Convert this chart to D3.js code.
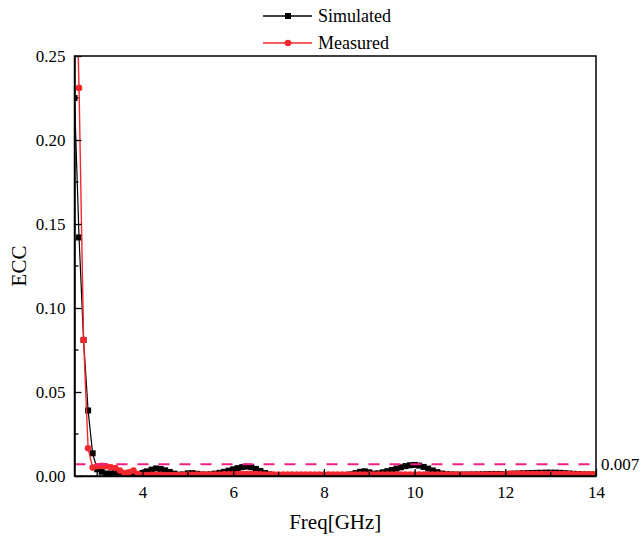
<!DOCTYPE html>
<html>
<head>
<meta charset="utf-8">
<script src="https://cdn.jsdelivr.net/npm/d3@7"></script>
<style>
  body { margin: 0; background: #fff; }
  text { font-family: "Liberation Serif", "Times New Roman", serif; fill: #000; }
</style>
</head>
<body>
<div id="chart"></div>
<script>
// frequency grid (GHz)
var freq = [2.5,2.6,2.7,2.8,2.9,3.0,3.1,3.2,3.3,3.4,3.5,3.6,3.7,3.8,3.9,
  4.0,4.1,4.2,4.3,4.4,4.5,4.6,4.7,4.8,4.9,5.0,5.1,5.2,5.3,5.4,5.5,5.6,5.7,5.8,5.9,
  6.0,6.1,6.2,6.3,6.4,6.5,6.6,6.7,6.8,6.9,7.0,7.1,7.2,7.3,7.4,7.5,7.6,7.7,7.8,7.9,
  8.0,8.1,8.2,8.3,8.4,8.5,8.6,8.7,8.8,8.9,9.0,9.1,9.2,9.3,9.4,9.5,9.6,9.7,9.8,9.9,
  10.0,10.1,10.2,10.3,10.4,10.5,10.6,10.7,10.8,10.9,11.0,11.1,11.2,11.3,11.4,11.5,11.6,11.7,11.8,11.9,
  12.0,12.1,12.2,12.3,12.4,12.5,12.6,12.7,12.8,12.9,13.0,13.1,13.2,13.3,13.4,13.5,13.6,13.7,13.8,13.9,14.0];

var simulated = [0.225,0.142,0.081,0.039,0.0135,0.004,0.0025,0.0015,0.0015,0.002,0.0022,0.0018,0.0012,0.0006,0.0008,
  0.0018,0.0028,0.0038,0.0045,0.0042,0.0034,0.0024,0.0014,0.0008,0.0009,0.0016,0.0017,0.0013,0.0009,0.0008,0.001,0.0014,0.0019,0.0025,0.0032,
  0.004,0.0047,0.0053,0.0056,0.0052,0.0042,0.003,0.0018,0.001,0.0006,0.0005,0.0005,0.0005,0.0005,0.0005,0.0005,0.0005,0.0005,0.0005,0.0005,
  0.0005,0.0005,0.0005,0.0005,0.0006,0.0006,0.001,0.0018,0.0025,0.0028,0.0022,0.0014,0.0016,0.0022,0.0029,0.0036,0.0044,0.0052,0.0059,0.0064,
  0.0066,0.0062,0.0054,0.0044,0.0033,0.0023,0.0015,0.0011,0.0009,0.0008,0.0008,0.0008,0.0008,0.0009,0.0009,0.001,0.0011,0.0012,0.0012,0.0012,
  0.0012,0.0013,0.0014,0.0015,0.0016,0.0017,0.0018,0.0019,0.0019,0.002,0.002,0.002,0.0019,0.0017,0.0015,0.0013,0.0012,0.001,0.0009,0.0008,0.0008];

var measured = [0.34,0.231,0.081,0.0165,0.005,0.0058,0.006,0.0058,0.0052,0.0048,0.0032,0.0018,0.0022,0.0032,0.0012,
  0.0006,0.0006,0.0007,0.0007,0.0007,0.0006,0.0006,0.0006,0.0006,0.0007,0.0007,0.0007,0.0008,0.0008,0.0008,0.0008,0.0009,0.0009,0.001,0.001,
  0.0011,0.0011,0.0012,0.0012,0.0011,0.0011,0.001,0.0009,0.0009,0.0008,0.0008,0.0008,0.0008,0.0008,0.0008,0.0008,0.0008,0.0008,0.0008,0.0008,
  0.0008,0.0008,0.0008,0.0008,0.0008,0.0008,0.0008,0.0008,0.0008,0.0008,0.0008,0.0008,0.0008,0.0008,0.0008,0.0008,0.0008,0.0008,0.0008,0.0008,
  0.0008,0.0009,0.0009,0.0009,0.0009,0.0009,0.0009,0.0009,0.0009,0.0009,0.0009,0.0009,0.0009,0.0009,0.0009,0.0009,0.0009,0.0009,0.0009,0.0009,
  0.0012,0.0013,0.0013,0.0013,0.0013,0.0012,0.0012,0.0012,0.0012,0.0012,0.0012,0.0012,0.0011,0.0011,0.0011,0.001,0.001,0.001,0.001,0.001,0.001];

var xTicks = [4, 6, 8, 10, 12, 14];
var xMinor = [3, 5, 7, 9, 11, 13];
var yTicks = [0, 0.05, 0.10, 0.15, 0.20, 0.25];
var yMinor = [0.025, 0.075, 0.125, 0.175, 0.225];
var threshold = 0.007;

var margin = {top: 56, right: 45, bottom: 64, left: 74.5},
    W = 641, H = 540,
    width = W - margin.left - margin.right,
    height = H - margin.top - margin.bottom;

var svg = d3.select("#chart").append("svg")
    .attr("width", W)
    .attr("height", H);

var g = svg.append("g")
    .attr("transform", "translate(" + margin.left + "," + margin.top + ")");

var x = d3.scaleLinear().domain([2.5, 14]).range([0, width]);
var y = d3.scaleLinear().domain([0, 0.25]).range([height, 0]);

g.append("clipPath").attr("id", "clip")
  .append("rect").attr("width", width).attr("height", height);

var plot = g.append("g").attr("clip-path", "url(#clip)");

var red = "#f2282d";
var line = d3.line().x(function(d) { return x(d[0]); }).y(function(d) { return y(d[1]); });

var simData = freq.map(function(f, i) { return [f, simulated[i]]; });
var measData = freq.map(function(f, i) { return [f, measured[i]]; });

// simulated
plot.append("path").datum(simData)
    .attr("d", line).attr("fill", "none").attr("stroke", "#000").attr("stroke-width", 1.2);
plot.selectAll(".sq").data(simData).enter().append("rect")
    .attr("x", function(d) { return x(d[0]) - 3; })
    .attr("y", function(d) { return y(d[1]) - 3; })
    .attr("width", 6).attr("height", 6).attr("fill", "#000");

// measured
plot.append("path").datum(measData)
    .attr("d", line).attr("fill", "none").attr("stroke", red).attr("stroke-width", 1.4);
plot.selectAll(".ci").data(measData).enter().append("circle")
    .attr("cx", function(d) { return x(d[0]); })
    .attr("cy", function(d) { return y(d[1]); })
    .attr("r", 3.3).attr("fill", red);

// threshold line
g.append("line")
    .attr("x1", 0).attr("x2", width)
    .attr("y1", y(threshold)).attr("y2", y(threshold))
    .attr("stroke", "#ee1f80").attr("stroke-width", 2)
    .attr("stroke-dasharray", "11,10");

g.append("text")
    .attr("x", width + 5).attr("y", y(threshold) + 6)
    .style("font-size", "17px")
    .text(threshold.toFixed(3));

// axes
var xAxis = g.append("g").attr("transform", "translate(0," + height + ")")
    .call(d3.axisBottom(x).tickValues(xTicks).tickSizeInner(-7).tickSizeOuter(0).tickPadding(10));
xAxis.append("g").selectAll("line").data(xMinor).enter().append("line")
    .attr("x1", function(d) { return x(d); }).attr("x2", function(d) { return x(d); })
    .attr("y1", 0).attr("y2", -4).attr("stroke", "#000");

var yAxis = g.append("g")
    .call(d3.axisLeft(y).tickValues(yTicks).tickFormat(d3.format(".2f")).tickSizeInner(-7).tickSizeOuter(0).tickPadding(9));
yAxis.append("g").selectAll("line").data(yMinor).enter().append("line")
    .attr("y1", function(d) { return y(d); }).attr("y2", function(d) { return y(d); })
    .attr("x1", 0).attr("x2", 4).attr("stroke", "#000");

[xAxis, yAxis].forEach(function(a) {
  a.attr("font-family", null).attr("font-size", null);
  a.selectAll("text").style("font-size", "17px");
  a.selectAll("line").attr("stroke-width", 1.3);
  a.select(".domain").attr("stroke-width", 1.5);
});

// frame
g.append("rect").attr("width", width).attr("height", height)
    .attr("fill", "none").attr("stroke", "#000").attr("stroke-width", 1.5);

// axis titles
svg.append("text")
    .attr("x", margin.left + width / 2).attr("y", 529)
    .attr("text-anchor", "middle").style("font-size", "21px")
    .text("Freq[GHz]");
svg.append("text")
    .attr("transform", "translate(26," + (margin.top + height / 2) + ") rotate(-90)")
    .attr("text-anchor", "middle").style("font-size", "21px")
    .text("ECC");

// legend
var legendItems = [
  {label: "Simulated", color: "#000", shape: "square"},
  {label: "Measured", color: red, shape: "circle"}
];
var lg = svg.append("g").selectAll("g").data(legendItems).enter().append("g")
    .attr("transform", function(d, i) { return "translate(263," + (16 + i * 27) + ")"; });
lg.append("line").attr("x1", 0).attr("x2", 49).attr("y1", 0).attr("y2", 0)
    .attr("stroke", function(d) { return d.color; }).attr("stroke-width", 1.3);
lg.each(function(d) {
  var s = d3.select(this);
  if (d.shape == "square") s.append("rect").attr("x", 22).attr("y", -3).attr("width", 6).attr("height", 6).attr("fill", d.color);
  else s.append("circle").attr("cx", 25).attr("cy", 0).attr("r", 3.3).attr("fill", d.color);
});
lg.append("text").attr("x", 55).attr("y", 6).style("font-size", "18px")
    .text(function(d) { return d.label; });
</script>
</body>
</html>
